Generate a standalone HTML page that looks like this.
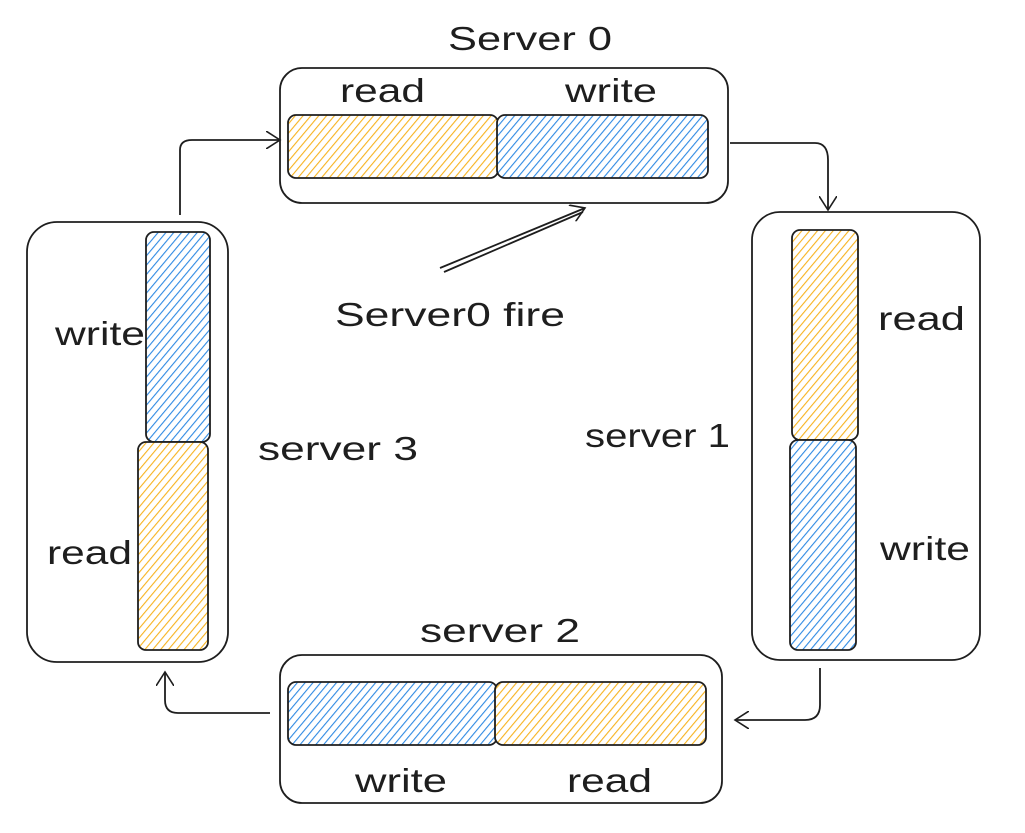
<!DOCTYPE html>
<html><head><meta charset="utf-8"><style>
html,body{margin:0;padding:0;background:#fff;}
svg{display:block}
text{font-family:"Liberation Sans",sans-serif;font-size:33px;fill:#1e1e1e}
</style></head><body>
<svg width="1025" height="833" viewBox="0 0 1025 833" xmlns="http://www.w3.org/2000/svg">
<defs>
<pattern id="hy" width="6" height="6" patternUnits="userSpaceOnUse" patternTransform="rotate(40)">
<rect width="6" height="6" fill="#fff"/><line x1="0" y1="0" x2="0" y2="6" stroke="#f7b320" stroke-width="2.2"/></pattern>
<pattern id="hb" width="6" height="6" patternUnits="userSpaceOnUse" patternTransform="rotate(40)">
<rect width="6" height="6" fill="#fff"/><line x1="0" y1="0" x2="0" y2="6" stroke="#2f8ae3" stroke-width="2.2"/></pattern>
<marker id="ar" markerWidth="16" markerHeight="18" refX="14" refY="9" orient="auto" markerUnits="userSpaceOnUse">
<path d="M0,0 L14,9 L0,18" fill="none" stroke="#1e1e1e" stroke-width="1.6"/></marker>
</defs>
<g fill="none" stroke="#1e1e1e" stroke-width="1.8">
<rect x="280" y="68" width="448" height="135" rx="22"/>
<rect x="288" y="115" width="210" height="63" rx="8" fill="url(#hy)"/>
<rect x="497" y="115" width="211" height="63" rx="8" fill="url(#hb)"/>
<rect x="752" y="212" width="228" height="448" rx="28"/>
<rect x="792" y="230" width="66" height="210" rx="8" fill="url(#hy)"/>
<rect x="790" y="440" width="66" height="210" rx="8" fill="url(#hb)"/>
<rect x="280" y="655" width="442" height="148" rx="22"/>
<rect x="288" y="682" width="209" height="63" rx="8" fill="url(#hb)"/>
<rect x="495" y="682" width="211" height="63" rx="8" fill="url(#hy)"/>
<rect x="27" y="222" width="201" height="440" rx="30"/>
<rect x="146" y="232" width="64" height="210" rx="8" fill="url(#hb)"/>
<rect x="138" y="442" width="70" height="208" rx="8" fill="url(#hy)"/>
<path d="M180,215 L180,150 Q180,140 192,140 L280,140" marker-end="url(#ar)"/>
<path d="M730,143 L815,143 Q828,143 828,160 L828,210" marker-end="url(#ar)"/>
<path d="M820,668 L820,705 Q820,720 805,720 L735,720" marker-end="url(#ar)"/>
<path d="M270,713 L178,713 Q165,713 165,700 L165,672" marker-end="url(#ar)"/>
<path d="M440,268 L585,208" marker-end="url(#ar)"/>
<path d="M444,272 L583,212"/>
</g>
<g>
<text x="448" y="50" textLength="164" lengthAdjust="spacingAndGlyphs">Server 0</text>
<text x="340" y="102" textLength="85" lengthAdjust="spacingAndGlyphs">read</text>
<text x="565" y="102" textLength="92" lengthAdjust="spacingAndGlyphs">write</text>
<text x="335" y="326" textLength="230" lengthAdjust="spacingAndGlyphs">Server0 fire</text>
<text x="878" y="330" textLength="87" lengthAdjust="spacingAndGlyphs">read</text>
<text x="880" y="560" textLength="90" lengthAdjust="spacingAndGlyphs">write</text>
<text x="585" y="447" textLength="145" lengthAdjust="spacingAndGlyphs">server 1</text>
<text x="420" y="642" textLength="160" lengthAdjust="spacingAndGlyphs">server 2</text>
<text x="355" y="792" textLength="92" lengthAdjust="spacingAndGlyphs">write</text>
<text x="567" y="792" textLength="85" lengthAdjust="spacingAndGlyphs">read</text>
<text x="55" y="345" textLength="90" lengthAdjust="spacingAndGlyphs">write</text>
<text x="47" y="564" textLength="85" lengthAdjust="spacingAndGlyphs">read</text>
<text x="258" y="460" textLength="160" lengthAdjust="spacingAndGlyphs">server 3</text>
</g>
</svg>
</body></html>
